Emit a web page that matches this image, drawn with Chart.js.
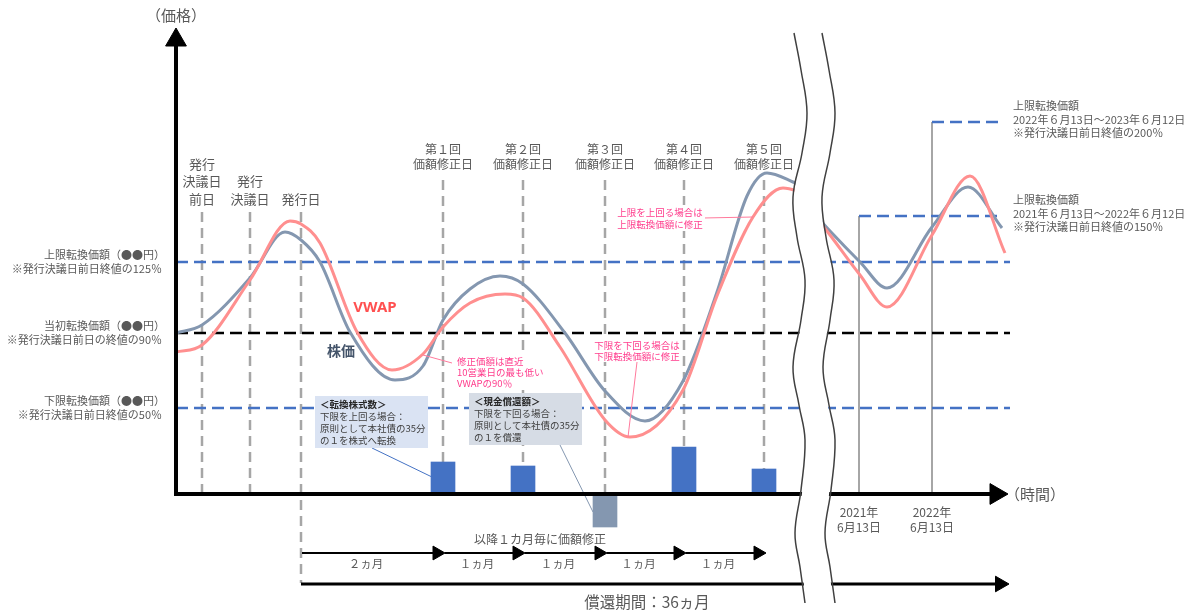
<!DOCTYPE html>
<html>
<head>
<meta charset="utf-8">
<script src="https://cdn.jsdelivr.net/npm/chart.js@4.4.1/dist/chart.umd.min.js"></script>
<style>
  html, body { margin: 0; padding: 0; background: #ffffff; }
  #wrap { width: 1197px; height: 612px; position: relative; }
</style>
</head>
<body>
<div id="wrap"><canvas id="chart"></canvas></div>
<script>
// ---- timeline events (t = position along the time axis, origin at 0) ----
const issueEventT = [26, 74, 125];
const issueEventLabels = [['発行', '決議日', '前日'], ['発行', '決議日'], ['発行日']];
const revisionT = [267, 347, 429, 508, 588];
const revisionLabels = ['第１回', '第２回', '第３回', '第４回', '第５回'];
const dateT = [683, 756];
const dateLabels = [['2021年', '6月13日'], ['2022年', '6月13日']];
const periodLabels = ['２ヵ月', '１ヵ月', '１ヵ月', '１ヵ月', '１ヵ月'];

// ---- price levels on the schematic price axis (time axis at 0) ----
const upperLevel = 232;
const initialLevel = 161;
const lowerLevel = 86;
const upper2021Level = 278;
const upper2022Level = 372;
const levelEndT = 834;
const stepEndT = 827;

// ---- share price and VWAP paths (null marks the axis break) ----
const stockT = [0, 26, 74, 109, 125, 144, 174, 219, 247, 267, 294, 324, 347, 389, 429, 469, 507, 541, 571, 591, 617, 629, 636, 644, 654, 684, 711, 756, 792, 826];
const stockP = [161, 169, 216, 262, 254, 232, 162, 114, 128, 174, 205, 218, 210, 161, 103, 73, 113, 202, 298, 321, 312, 306, null, 274, 263, 232, 206, 267, 307, 266];
const vwapT = [0, 26, 74, 114, 125, 144, 181, 216, 247, 267, 294, 329, 347, 384, 429, 454, 507, 541, 577, 607, 629, 636, 644, 654, 684, 711, 756, 794, 829];
const vwapP = [142, 149, 214, 273, 270, 251, 162, 124, 140, 167, 191, 200, 196, 147, 74, 57, 104, 198, 277, 306, 301, null, 272, 259, 219, 187, 259, 318, 241];

// ---- settlement at each revision date: conversion (+) / cash redemption (-) ----
const settleValues = [32, 28, -33, 47, 25];

// ---- axis break outline ----
const breakP = [461, 424, 381, 341, 297, 257, 214, 174, 127, 89, 54, 4, -39, -73, -109];
const breakLeftT = [618, 625, 631, 626, 617, 621, 629, 625, 617, 623, 629, 625, 619, 624, 629];
const breakRightT = [646, 653, 659, 654, 646, 650, 658, 654, 647, 653, 659, 655, 649, 654, 659];

// ---- styles ----
const JP = '"Noto Sans CJK JP", "Noto Sans", sans-serif';
const BLUE = '#4472C4';
const GREYBLUE = '#8497B0';
const PINK = '#FF8F8F';
const NOTE_PINK = '#FF3C8C';
const GREY = '#A6A6A6';
const TEXT = '#595959';

const zip = (ts, ps) => ts.map((t, i) => ({ x: t, y: ps[i] }));

function seg(points, color, width, dash, order) {
  return {
    type: 'line', data: points, borderColor: color, borderWidth: width,
    borderDash: dash || [], pointRadius: 0, tension: 0, order: order,
    borderCapStyle: 'butt'
  };
}

function arrow(x0, y0, x1, y1, width, r, rot, order) {
  return {
    type: 'line', data: [{ x: x0, y: y0 }, { x: x1, y: y1 }],
    borderColor: '#000', borderWidth: width, tension: 0,
    pointRadius: [0, r], pointStyle: 'triangle', pointRotation: rot,
    pointBackgroundColor: '#000', pointBorderColor: '#000', pointBorderWidth: 1,
    order: order
  };
}

const datasets = [];

// level lines
datasets.push(seg([{ x: 0, y: upperLevel }, { x: levelEndT, y: upperLevel }], BLUE, 2.5, [12, 6], 30));
datasets.push(seg([{ x: 0, y: initialLevel }, { x: levelEndT, y: initialLevel }], '#000', 2.5, [12, 6], 30));
datasets.push(seg([{ x: 0, y: lowerLevel }, { x: levelEndT, y: lowerLevel }], BLUE, 2.5, [12, 6], 30));
datasets.push(seg([{ x: dateT[0], y: upper2021Level }, { x: stepEndT, y: upper2021Level }], BLUE, 2.5, [12, 6], 30));
datasets.push(seg([{ x: dateT[1], y: upper2022Level }, { x: stepEndT, y: upper2022Level }], BLUE, 2.5, [12, 6], 30));
datasets.push(seg([{ x: dateT[0], y: 0 }, { x: dateT[0], y: upper2021Level }], GREY, 2, null, 30));
datasets.push(seg([{ x: dateT[1], y: 0 }, { x: dateT[1], y: upper2022Level }], GREY, 2, null, 30));

// event guides
issueEventT.forEach((t, i) => {
  datasets.push(seg([{ x: t, y: 282 }, { x: t, y: i === 2 ? -89 : 0 }], GREY, 2.5, [10, 6], 31));
});
revisionT.forEach(t => {
  datasets.push(seg([{ x: t, y: 314 }, { x: t, y: 0 }], GREY, 2.5, [10, 6], 31));
});

// price paths
datasets.push({
  type: 'line', data: zip(stockT, stockP), borderColor: GREYBLUE, borderWidth: 3,
  cubicInterpolationMode: 'monotone', pointRadius: 0, spanGaps: false, order: 20
});
datasets.push({
  type: 'line', data: zip(vwapT, vwapP), borderColor: PINK, borderWidth: 3,
  cubicInterpolationMode: 'monotone', pointRadius: 0, spanGaps: false, order: 19
});

// conversion / redemption bars
datasets.push({
  type: 'bar', data: zip(revisionT, settleValues),
  backgroundColor: settleValues.map(v => v < 0 ? GREYBLUE : BLUE),
  barThickness: 24, borderWidth: 0, order: 15
});

// callout leaders
datasets.push(seg([{ x: 196, y: 46 }, { x: 256, y: 17 }], BLUE, 1, null, 14));
datasets.push(seg([{ x: 384, y: 49 }, { x: 417, y: -18 }], GREYBLUE, 1, null, 14));
datasets.push(seg([{ x: 247, y: 139 }, { x: 276, y: 131 }], '#FF7A9C', 1, null, 14));
datasets.push(seg([{ x: 461, y: 132 }, { x: 452, y: 57 }], '#FF7A9C', 1, null, 14));
datasets.push(seg([{ x: 527, y: 276 }, { x: 577, y: 277 }], '#FF7A9C', 1, null, 14));

// axes
datasets.push(arrow(0, -2, 0, 454, 4, 12, 0, 10));
datasets.push(arrow(-2, 0, 820, 0, 4, 12, 90, 10));

// revision period arrows
const stepStarts = [issueEventT[2]].concat(revisionT.slice(0, 4));
stepStarts.forEach((t0, i) => {
  const tip = revisionT[i] + 2;
  datasets.push(arrow(t0 + (i === 0 ? 1 : 2), -59, tip - 8, -59, 2, 8, 90, 10));
});
// redemption period arrow
datasets.push(arrow(issueEventT[2], -90, 824, -90, 3, 9, 90, 10));

// axis break: white band and its two wavy edges
datasets.push({
  type: 'line', data: breakP.map((p, i) => ({ x: (breakLeftT[i] + breakRightT[i]) / 2, y: p })),
  borderColor: '#ffffff', borderWidth: 27, tension: 0.4, pointRadius: 0, order: 2,
  borderCapStyle: 'butt'
});
datasets.push({
  type: 'line', data: zip(breakLeftT, breakP), borderColor: '#404040', borderWidth: 1.5,
  tension: 0.4, pointRadius: 0, order: 1
});
datasets.push({
  type: 'line', data: zip(breakRightT, breakP), borderColor: '#404040', borderWidth: 1.5,
  tension: 0.4, pointRadius: 0, order: 1
});

// ---- text layer ----
function put(ctx, str, x, y, o) {
  o = o || {};
  ctx.save();
  ctx.font = (o.weight || 'normal') + ' ' + (o.size || 12) + 'px ' + (o.family || JP);
  ctx.fillStyle = o.color || TEXT;
  ctx.textAlign = o.align || 'center';
  ctx.textBaseline = 'middle';
  ctx.fillText(str, x, y);
  ctx.restore();
}
function rect(ctx, x0, y0, x1, y1, color) {
  ctx.save();
  ctx.fillStyle = color;
  ctx.fillRect(x0, y0, x1 - x0, y1 - y0);
  ctx.restore();
}

const textLayer = {
  id: 'textLayer',
  afterDatasetsDraw(chart) {
    const ctx = chart.ctx;
    const X = v => chart.scales.x.getPixelForValue(v);
    const Y = v => chart.scales.y.getPixelForValue(v);

    // axis titles
    put(ctx, '（価格）', X(0), 15, { size: 15 });
    put(ctx, '（時間）', X(829), Y(0), { size: 15, align: 'left' });

    // issue event labels
    issueEventT.forEach((t, i) => {
      const lines = issueEventLabels[i];
      lines.forEach((s, k) => {
        put(ctx, s, X(t), Y(282) - 13 - (lines.length - 1 - k) * 17.5, { size: 13 });
      });
    });
    // revision labels
    revisionT.forEach((t, i) => {
      put(ctx, revisionLabels[i], X(t), Y(314) - 31, { size: 12 });
      put(ctx, '価額修正日', X(t), Y(314) - 16, { size: 12 });
    });

    // level labels on the left
    const left = [
      [upperLevel, '上限転換価額（●●円）', '※発行決議日前日終値の125％'],
      [initialLevel, '当初転換価額（●●円）', '※発行決議日前日の終値の90％'],
      [lowerLevel, '下限転換価額（●●円）', '※発行決議日前日終値の50％']
    ];
    left.forEach(([lvl, a, b]) => {
      put(ctx, a, X(-11), Y(lvl) - 7, { size: 11, align: 'right' });
      put(ctx, b, X(-14), Y(lvl) + 7, { size: 11, align: 'right' });
    });

    // stepped upper limits on the right
    const right = [
      [upper2022Level, '2022年６月13日～2023年６月12日', '※発行決議日前日終値の200％'],
      [upper2021Level, '2021年６月13日～2022年６月12日', '※発行決議日前日終値の150％']
    ];
    right.forEach(([lvl, a, b]) => {
      put(ctx, '上限転換価額', X(837), Y(lvl) - 16, { size: 11, align: 'left' });
      put(ctx, a, X(837), Y(lvl) - 2, { size: 11, align: 'left' });
      put(ctx, b, X(837), Y(lvl) + 11, { size: 11, align: 'left' });
    });

    // dates under the time axis
    dateT.forEach((t, i) => {
      put(ctx, dateLabels[i][0], X(t), Y(0) + 18, { size: 12 });
      put(ctx, dateLabels[i][1], X(t), Y(0) + 33, { size: 12 });
    });

    // series names
    put(ctx, 'VWAP', X(199), Y(186), { size: 15, weight: 'bold', color: '#FF5050', family: '"Noto Sans", "Liberation Sans", sans-serif' });
    put(ctx, '株価', X(165), Y(143), { size: 14, weight: 'bold', color: '#44546A' });

    // settlement boxes
    rect(ctx, X(139), Y(98), X(252), Y(46), '#DAE3F3');
    const boxA = ['下限を上回る場合：', '原則として本社債の35分', 'の１を株式へ転換'];
    put(ctx, '＜転換株式数＞', X(144), Y(98) + 8, { size: 9.5, align: 'left', weight: 'bold', color: '#262626' });
    boxA.forEach((s, k) => put(ctx, s, X(144), Y(98) + 20 + k * 12, { size: 9.5, align: 'left', color: '#404040' }));

    rect(ctx, X(293), Y(101), X(406), Y(49), '#D6DCE5');
    const boxB = ['下限を下回る場合：', '原則として本社債の35分', 'の１を償還'];
    put(ctx, '＜現金償還額＞', X(298), Y(101) + 8, { size: 9.5, align: 'left', weight: 'bold', color: '#262626' });
    boxB.forEach((s, k) => put(ctx, s, X(298), Y(101) + 20 + k * 12, { size: 9.5, align: 'left', color: '#404040' }));

    // revision rule notes
    rect(ctx, X(276), Y(141), X(364), Y(104), '#ffffff');
    ['修正価額は直近', '10営業日の最も低い', 'VWAPの90％'].forEach((s, k) =>
      put(ctx, s, X(281), Y(133) + k * 11, { size: 9.5, align: 'left', color: NOTE_PINK }));

    rect(ctx, X(416), Y(156), X(505), Y(132), '#ffffff');
    ['下限を下回る場合は', '下限転換価額に修正'].forEach((s, k) =>
      put(ctx, s, X(461), Y(149) + k * 11, { size: 9.5, color: NOTE_PINK }));

    rect(ctx, X(439), Y(289), X(529), Y(263), '#ffffff');
    ['上限を上回る場合は', '上限転換価額に修正'].forEach((s, k) =>
      put(ctx, s, X(484), Y(282) + k * 12, { size: 9.5, color: NOTE_PINK }));

    // period arrows text
    put(ctx, '以降１カ月毎に価額修正', X(364), Y(-45), { size: 12 });
    stepStarts.forEach((t0, i) => {
      put(ctx, periodLabels[i], X((t0 + revisionT[i]) / 2) - 6, Y(-70), { size: 11.5 });
    });
    put(ctx, '償還期間：36ヵ月', X(471), Y(-108), { size: 15.5 });
  }
};

new Chart(document.getElementById('chart'), {
  type: 'line',
  data: { datasets: datasets },
  options: {
    responsive: true,
    maintainAspectRatio: false,
    animation: false,
    events: [],
    layout: { padding: 0, autoPadding: false },
    plugins: { legend: { display: false }, tooltip: { enabled: false } },
    elements: { point: { radius: 0, hoverRadius: 0 }, line: { fill: false } },
    scales: {
      x: { type: 'linear', min: -176, max: 1021, display: false, offset: false },
      y: { type: 'linear', min: -118, max: 494, display: false }
    }
  },
  plugins: [textLayer]
});
</script>
</body>
</html>
